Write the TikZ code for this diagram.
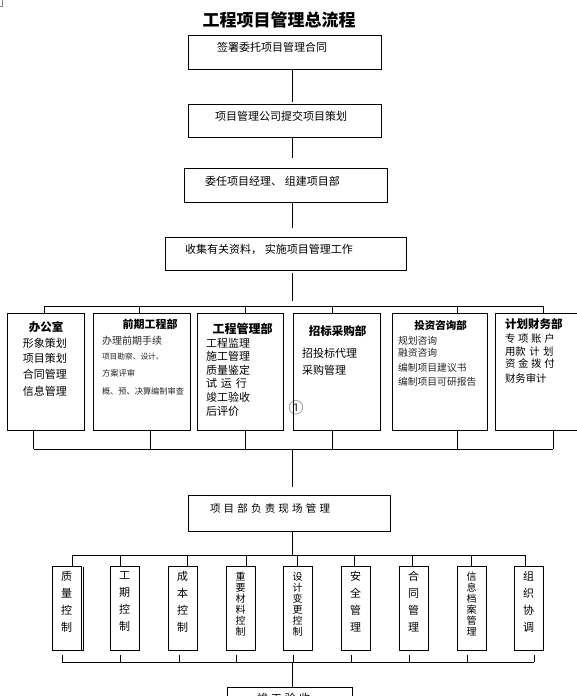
\documentclass[tikz,border=0pt]{standalone}
\usepackage{fontspec}
\setmainfont{Noto Sans CJK SC}
\newcommand\myfs[1]{\fontsize{#1}{#1}\selectfont}
\newcommand\mybox[5]{\node[box, minimum width=#4pt, minimum height=#5pt] (#1) at (#2,#3) {};}
\begin{document}
\begin{tikzpicture}[x=1pt,y=-1pt,
  every node/.style={inner sep=0pt, outer sep=0pt},
  box/.style={draw, line width=0.9pt, anchor=north west},
  conn/.style={line width=0.9pt},
  tx/.style={anchor=west},
  gr/.style={text=black!85},
  v4/.style={anchor=north, align=center, font=\fontsize{11}{17}\selectfont},
  v6/.style={anchor=north, align=center, font=\fontsize{10}{11}\selectfont}]
\useasboundingbox (0,0) rectangle (577,696);
\clip (0,0) rectangle (577,696);
% corner mark
\draw[gray, line width=0.6pt] (2.3,0) -- (2.3,6.5) -- (0,6.5);
% title
\node[font=\myfs{17}\bfseries] (title) at (279,20) {工程项目管理总流程};
% top boxes
\mybox{b1}{188}{35}{193}{34}
\mybox{b2}{188}{104}{193}{33}
\mybox{b3}{184}{168}{203}{34}
\mybox{b4}{165}{237}{241}{33}
\node[tx, font=\myfs{11}] (t1) at (217,47) {签署委托项目管理合同};
\node[tx, font=\myfs{11}] (t2) at (215,116) {项目管理公司提交项目策划};
\node[tx, font=\myfs{11}] (t3) at (205,181) {委任项目经理、\kern3pt 组建项目部};
\node[tx, font=\myfs{11}] (t4) at (185,249) {收集有关资料，\kern3pt 实施项目管理工作};
% department boxes
\mybox{dA}{7}{313}{77}{117}
\mybox{dB}{93}{313}{97}{117}
\mybox{dC}{197}{313}{86}{117}
\mybox{dD}{293}{313}{87}{117}
\mybox{dE}{392}{313}{95}{117}
\mybox{dF}{495}{313}{100}{117}
% A
\node[font=\myfs{11.5}\bfseries] (hA) at (46,327) {办公室};
\node[tx, font=\myfs{11}] (a1) at (23,343) {形象策划};
\node[tx, font=\myfs{11}] (a2) at (23,358) {项目策划};
\node[tx, font=\myfs{11}] (a3) at (23,374) {合同管理};
\node[tx, font=\myfs{11}] (a4) at (23,391) {信息管理};
% B
\node[font=\myfs{11}\bfseries] (hB) at (150,324) {前期工程部};
\node[tx, gr, font=\myfs{10}] (bb1) at (102,341) {办理前期手续};
\node[tx, gr, font=\myfs{7.7}] (bb2) at (102,357) {项目勘察、设计、};
\node[tx, gr, font=\myfs{8.3}] (bb3) at (102,373) {方案评审};
\node[tx, gr, font=\myfs{8.2}] (bb4) at (102,391) {概、预、决算编制审查};
% C
\node[font=\myfs{12}\bfseries] (hC) at (242.5,329) {工程管理部};
\node[tx, font=\myfs{11}] (c1) at (206,343) {工程监理};
\node[tx, font=\myfs{11}] (c2) at (206,356) {施工管理};
\node[tx, font=\myfs{11}] (c3) at (206,370) {质量鉴定};
\node[tx, font=\myfs{11}] (c4) at (206,383) {试\kern4pt 运\kern4pt 行};
\node[tx, font=\myfs{11}] (c5) at (206,397) {竣工验收};
\node[tx, font=\myfs{11}] (c6) at (206,411) {后评价};
\node[font=\myfs{15}, text=black!75] (circ) at (296,408) {①};
% D
\node[font=\myfs{11.5}\bfseries] (hD) at (337.5,331) {招标采购部};
\node[tx, font=\myfs{11}] (d1) at (302,353) {招投标代理};
\node[tx, font=\myfs{11}] (d2) at (302,370) {采购管理};
% E
\node[font=\myfs{10.5}\bfseries] (hE) at (440.5,325) {投资咨询部};
\node[tx, gr, font=\myfs{9.8}] (e1) at (398,341) {规划咨询};
\node[tx, gr, font=\myfs{9.8}] (e2) at (398,353) {融资咨询};
\node[tx, gr, font=\myfs{9.8}] (e3) at (398,368) {编制项目建议书};
\node[tx, gr, font=\myfs{9.8}] (e4) at (398,382) {编制项目可研报告};
% F
\node[tx, font=\myfs{11.5}\bfseries] (hF) at (505,324) {计划财务部};
\node[tx, font=\myfs{10.4}] (f1) at (505,339) {专\kern2.7pt 项\kern2.7pt 账\kern2.7pt 户};
\node[tx, font=\myfs{10.4}] (f2) at (505,352) {用款\kern3.5pt 计\kern3.5pt 划};
\node[tx, font=\myfs{10.4}] (f3) at (505,364) {资\kern2.7pt 金\kern2.7pt 拨\kern2.7pt 付};
\node[tx, font=\myfs{10.4}] (f4) at (505,379) {财务审计};
% site management
\mybox{b5}{188}{495}{202}{36}
\node[tx, font=\myfs{10.5}] (t5) at (210,508) {项\kern3.2pt 目\kern3.2pt 部\kern3.2pt 负\kern3.2pt 责\kern3.2pt 现\kern3.2pt 场\kern3.2pt 管\kern3.2pt 理};
% small boxes
\mybox{s1}{52}{566}{29}{84}
\mybox{s2}{110}{566}{29}{84}
\mybox{s3}{168}{566}{29}{84}
\mybox{s4}{226}{566}{29}{84}
\mybox{s5}{283}{566}{29}{84}
\mybox{s6}{341}{566}{29}{84}
\mybox{s7}{399}{566}{29}{84}
\mybox{s8}{457}{566}{29}{84}
\mybox{s9}{514}{566}{29}{84}
\draw[conn] ([xshift=2.5pt,yshift=-1pt]s1.north east) -- ([xshift=2.5pt]s1.south east) -- (s1.south east);
\node[v4] (q1) at ([yshift=-5pt]s1.north) {质\\量\\控\\制};
\node[v4] (q2) at ([yshift=-5pt]s2.north) {工\\期\\控\\制};
\node[v4] (q3) at ([yshift=-5pt]s3.north) {成\\本\\控\\制};
\node[v6] (q4) at ([yshift=-6pt]s4.north) {重\\要\\材\\料\\控\\制};
\node[v6] (q5) at ([yshift=-6pt]s5.north) {设\\计\\变\\更\\控\\制};
\node[v4] (q6) at ([yshift=-5pt]s6.north) {安\\全\\管\\理};
\node[v4] (q7) at ([yshift=-5pt]s7.north) {合\\同\\管\\理};
\node[v6] (q8) at ([yshift=-6pt]s8.north) {信\\息\\档\\案\\管\\理};
\node[v4] (q9) at ([yshift=-5pt]s9.north) {组\\织\\协\\调};
% final box
\mybox{b6}{227}{687}{125}{40}
\node[tx, font=\myfs{11}] (t6) at (257,698) {竣\kern3pt 工\kern3pt 验\kern3pt 收};
% connectors
\coordinate (sp) at (292,0);
\draw[conn, shorten >=2pt] (b1.south -| sp) -- (b2.north -| sp);
\draw[conn, shorten >=10pt] (b2.south -| sp) -- (b3.north -| sp);
\draw[conn, shorten <=1pt, shorten >=9pt] (b3.south -| sp) -- (b4.north -| sp);
\coordinate (busT) at (292,306);
\coordinate (busTL) at (44,306);
\coordinate (busTR) at (543,306);
\draw[conn, shorten <=3pt, shorten >=5pt] (b4.south -| sp) -- (busT);
\draw[conn] (busTL) -- (busTR);
\foreach \n/\x in {dA/44,dB/139,dC/245,dD/332,dE/457,dF/543}{
  \coordinate (t\n) at (\x,306);
  \draw[conn] (t\n) -- (t\n |- \n.north);}
\coordinate (busBL) at (33.5,449);
\coordinate (busBR) at (553,449);
\coordinate (busB) at (292,449);
\draw[conn] (busBL) -- (busBR);
\foreach \n/\x in {dA/33.5,dB/150,dC/245,dD/332,dE/457,dF/553}{
  \coordinate (u\n) at (\x,449);
  \draw[conn] (u\n |- \n.south) -- (u\n);}
\draw[conn, shorten >=8pt] (busB) -- (b5.north -| sp);
\coordinate (busS) at (292,555);
\coordinate (busSL) at (72,555);
\coordinate (busSR) at (525,555);
\draw[conn] (b5.south -| sp) -- (busS);
\draw[conn] (busSL) -- (busSR);
\foreach \n/\x in {s1/72,s2/120,s3/187,s4/246,s5/297,s6/354,s7/412,s8/471,s9/525}{
  \coordinate (w\n) at (\x,555);
  \draw[conn] (w\n) -- (w\n |- \n.north);}
\coordinate (busEL) at (62,662);
\coordinate (busER) at (534,662);
\coordinate (busE) at (292,662);
\draw[conn] (busEL) -- (busER);
\foreach \n/\x in {s1/62,s2/120,s3/179,s4/236,s5/293,s6/351,s7/409,s8/467,s9/534}{
  \coordinate (v\n) at (\x,662);
  \draw[conn, shorten <=5pt] (v\n |- \n.south) -- (v\n);}
\draw[conn] (busE) -- (b6.north -| sp);
\end{tikzpicture}
\end{document}
